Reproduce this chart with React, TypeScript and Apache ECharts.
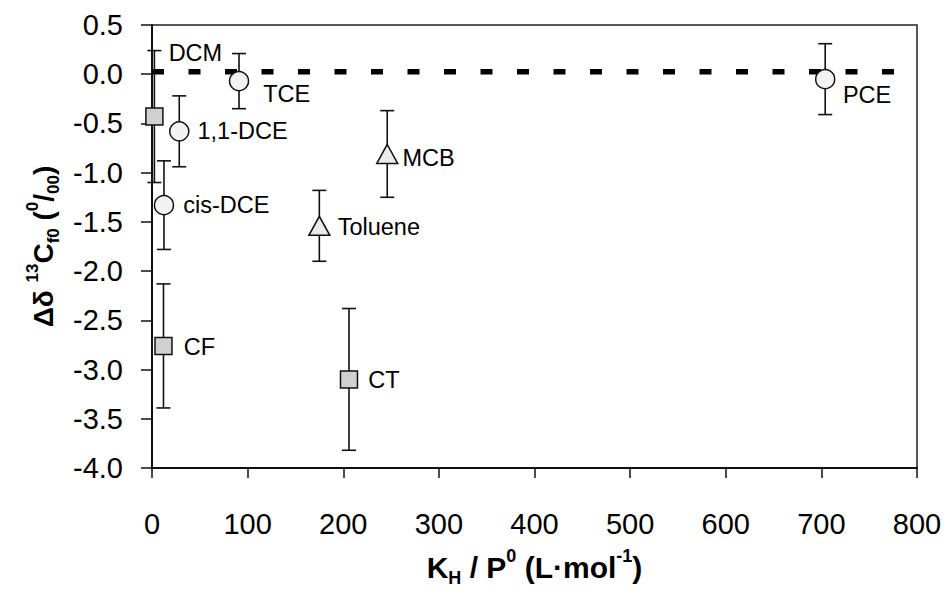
import React, { useEffect, useRef } from "react";
import * as echarts from "echarts";

// ---- data ----
const compounds = ["DCM", "TCE", "1,1-DCE", "cis-DCE", "Toluene", "MCB", "CF", "CT", "PCE"];
const khOverP0 = [2.5, 91, 28.5, 12.5, 175, 246, 12, 206, 704];
const deltaC = [-0.43, -0.07, -0.58, -1.33, -1.54, -0.81, -2.76, -3.1, -0.05];
const errors = [0.67, 0.28, 0.36, 0.45, 0.36, 0.44, 0.63, 0.72, 0.36];
const markerKind = ["square", "circle", "circle", "circle", "triangle", "triangle", "square", "square", "circle"];
const refLineX = [0, 800];
const refLineY = [0.025, 0.025];
const xTicks = { min: 0, max: 800, interval: 100 };
const yTicks = { min: -4, max: 0.5, interval: 0.5 };

// ---- layout (label nudges, in pixels) ----
const labelOffsets: number[][] = [
  [0, -64],
  [9, 13],
  [3, 0],
  [4, 0],
  [2, 1],
  [-1, 4],
  [6, 1],
  [5, 1],
  [2.5, 16],
];

const FONT = "'Liberation Sans', Arial, Helvetica, sans-serif";
const INK = "#111";

const markerStyle: Record<string, any> = {
  circle: { symbol: "circle", size: 19, color: "#f2f2f2" },
  square: { symbol: "rect", size: 17, color: "#d0d0d0" },
  triangle: { symbol: "triangle", size: [21, 19], color: "#ebebeb" },
};

export default function App() {
  const ref = useRef<HTMLDivElement>(null);
  useEffect(() => {
    if (!ref.current) return;
    const chart = echarts.init(ref.current, null, { renderer: "svg" });

    const errData = khOverP0.map((x, i) => [x, deltaC[i], errors[i]]);

    const scatterSeries = ["circle", "square", "triangle"].map((kind) => {
      const ms = markerStyle[kind];
      return {
        type: "scatter",
        name: kind,
        symbol: ms.symbol,
        symbolSize: ms.size,
        z: 5,
        itemStyle: { color: ms.color, borderColor: INK, borderWidth: 1.5, opacity: 1 },
        label: {
          show: true,
          position: "right",
          distance: 5,
          formatter: "{b}",
          fontFamily: FONT,
          fontSize: 23.5,
          color: "#000",
        },
        data: compounds
          .map((n, i) => ({ i, n }))
          .filter((d) => markerKind[d.i] === kind)
          .map((d) => ({
            name: d.n,
            value: [khOverP0[d.i], deltaC[d.i]],
            label: { offset: labelOffsets[d.i] },
          })),
      };
    });

    const option: any = {
      animation: false,
      backgroundColor: "#fff",
      grid: {
        left: 152,
        right: 30,
        top: 25,
        bottom: 119,
        show: true,
        borderColor: "#222",
        borderWidth: 1.5,
        backgroundColor: "transparent",
      },
      xAxis: {
        type: "value",
        min: xTicks.min,
        max: xTicks.max,
        interval: xTicks.interval,
        axisLine: { show: true, onZero: false, lineStyle: { color: INK, width: 2 } },
        axisTick: { show: true, inside: false, length: 10, lineStyle: { color: INK, width: 1.5 } },
        splitLine: { show: false },
        axisLabel: { fontFamily: FONT, fontSize: 29, color: "#000", margin: 41 },
        name: "{b|K}{sub|H}{b| / P}{sup|0}{b| (L·mol}{sup|-1}{b|)}",
        nameLocation: "middle",
        nameGap: 79,
        nameTextStyle: {
          rich: {
            b: { fontFamily: FONT, fontSize: 30, fontWeight: "bold", color: "#000", lineHeight: 40 },
            sup: { fontFamily: FONT, fontSize: 18, fontWeight: "bold", color: "#000", lineHeight: 14, verticalAlign: "top" },
            sub: { fontFamily: FONT, fontSize: 18, fontWeight: "bold", color: "#000", lineHeight: 20, verticalAlign: "bottom" },
          },
        },
      },
      yAxis: {
        type: "value",
        min: yTicks.min,
        max: yTicks.max,
        interval: yTicks.interval,
        axisLine: { show: true, onZero: false, lineStyle: { color: INK, width: 2 } },
        axisTick: { show: true, inside: false, length: 11, lineStyle: { color: INK, width: 1.5 } },
        splitLine: { show: false },
        axisLabel: {
          fontFamily: FONT,
          fontSize: 29,
          color: "#000",
          margin: 29,
          showMinLabel: true,
          showMaxLabel: true,
          formatter: (v: number) => v.toFixed(1),
        },
        name: "{b|Δδ }{sup|13}{b|C}{sub|f0}{b| (}{sup|0}{b|/}{sub|00}{b|)}",
        nameLocation: "middle",
        nameRotate: 90,
        nameGap: 81,
        nameTextStyle: {
          rich: {
            b: { fontFamily: FONT, fontSize: 28, fontWeight: "bold", color: "#000", lineHeight: 38 },
            sup: { fontFamily: FONT, fontSize: 17, fontWeight: "bold", color: "#000", lineHeight: 14, verticalAlign: "top" },
            sub: { fontFamily: FONT, fontSize: 17, fontWeight: "bold", color: "#000", lineHeight: 20, verticalAlign: "bottom" },
          },
        },
      },
      series: [
        {
          type: "line",
          data: refLineX.map((x, i) => [x, refLineY[i]]),
          symbol: "none",
          z: 1,
          lineStyle: { color: "#000", width: 5.5, type: [12, 24.5], cap: "butt" },
          silent: true,
        },
        {
          type: "custom",
          z: 3,
          encode: { x: 0, y: 1 },
          data: errData,
          renderItem: (params: any, api: any) => {
            const x = api.value(0);
            const y = api.value(1);
            const e = api.value(2);
            const top = api.coord([x, y + e]);
            const bot = api.coord([x, y - e]);
            const hw = 7;
            const st = { stroke: INK, lineWidth: 1.6 };
            return {
              type: "group",
              children: [
                { type: "line", shape: { x1: top[0], y1: top[1], x2: bot[0], y2: bot[1] }, style: st },
                { type: "line", shape: { x1: top[0] - hw, y1: top[1], x2: top[0] + hw, y2: top[1] }, style: st },
                { type: "line", shape: { x1: bot[0] - hw, y1: bot[1], x2: bot[0] + hw, y2: bot[1] }, style: st },
              ],
            };
          },
        },
        ...scatterSeries,
      ],
    };
    chart.setOption(option);
    return () => chart.dispose();
  }, []);

  return (
    <div
      ref={ref}
      style={{ position: "fixed", left: 0, top: 0, width: 947, height: 592, background: "#fff" }}
    />
  );
}
